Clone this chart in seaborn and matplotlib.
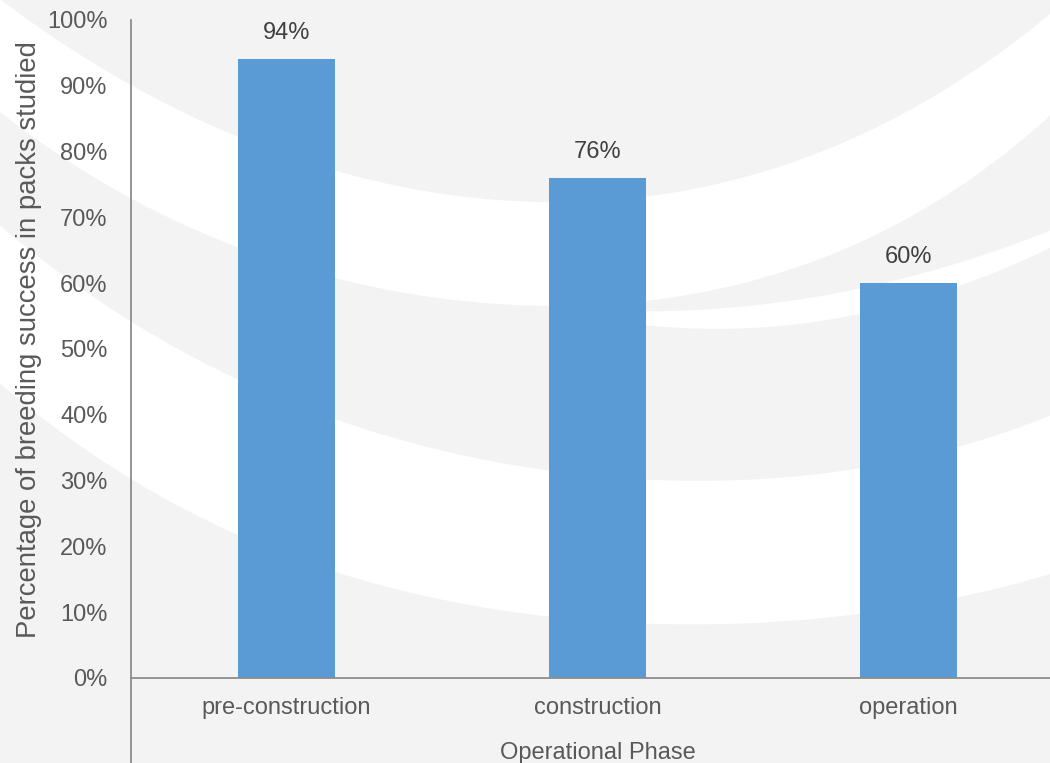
import numpy as np
import pandas as pd
import matplotlib
matplotlib.use("Agg")
import matplotlib.pyplot as plt
import seaborn as sns

# ---- data ----
phases = ["pre-construction", "construction", "operation"]
success_pct = [94, 76, 60]
y_ticks_pct = [0, 10, 20, 30, 40, 50, 60, 70, 80, 90, 100]
x_title = "Operational Phase"
y_title = "Percentage of breeding success in packs studied"

df = pd.DataFrame({"phase": phases, "value": [v / 100 for v in success_pct]})

sns.set_theme(style="white")
plt.rcParams["font.family"] = ["Liberation Sans", "DejaVu Sans"]

W, H = 1050, 763
fig = plt.figure(figsize=(W / 100, H / 100), dpi=100)
BG = "#f3f3f3"
fig.patch.set_facecolor(BG)

# ---- decorative background swooshes (pixel space) ----
bg = fig.add_axes([0, 0, 1, 1], zorder=0)
bg.set_xlim(0, W)
bg.set_ylim(H, 0)
bg.axis("off")
bg.set_facecolor(BG)
xs = np.linspace(0, W, 500)

def curve(px, py, deg=4):
    return np.polyval(np.polyfit(px, py, deg), xs)

b1x = [0, 130, 235, 340, 540, 650, 850, 960, 1050]
b1t = [0, 82, 137, 173, 202, 195, 139, 82, 13]
b1b = [113, 195, 248, 278, 313, 293, 245, 192, 113]
bg.fill_between(xs, curve(b1x, b1t), curve(b1x, b1b), color="white", lw=0)

b2x = [0, 130, 235, 340, 540, 650, 850, 960, 1050]
b2t = [225, 322, 378, 420, 469, 480, 472, 443, 417]
b2b = [382, 482, 534, 569, 616, 625, 619, 590, 577]
bg.fill_between(xs, curve(b2x, b2t), curve(b2x, b2b), color="white", lw=0)

tx = [560, 650, 850, 960, 1050]
tt = [312, 304, 289, 270, 225]
tb = [312, 323, 313, 291, 244]
ct = curve(tx, tt, 2)
cb = curve(tx, tb, 2)
xm = (xs >= 560) & (cb > ct)
bg.fill_between(xs[xm], ct[xm], cb[xm], color="white", lw=0)

# ---- main chart ----
left = 131 / W
bottom = (H - 678) / H
width = (1064 - 131) / W
height = (678 - 20) / H
ax = fig.add_axes([left, bottom, width, height], zorder=2)
ax.set_facecolor("none")

sns.barplot(data=df, x="phase", y="value", color="#5b9bd5", width=0.312,
            saturation=1, ax=ax, edgecolor="none")

ax.set_xlim(-0.5, 2.5)
ax.set_ylim(0, 1.0)
ax.set_yticks([t / 100 for t in y_ticks_pct])
ax.set_yticklabels([f"{t}%" for t in y_ticks_pct])

axis_col = "#8c8c8c"
text_col = "#595959"
for s in ["top", "right"]:
    ax.spines[s].set_visible(False)
for s in ["left", "bottom"]:
    ax.spines[s].set_color(axis_col)
    ax.spines[s].set_linewidth(1.3)
# extension of the vertical axis below the baseline
ax.axvline(-0.5, ymin=-(H - 678) / (678 - 20), ymax=0, color=axis_col,
           lw=1.3, clip_on=False)

ax.tick_params(axis="y", length=0, pad=17, labelsize=17, labelcolor=text_col)
ax.tick_params(axis="x", length=0, pad=13.5, labelsize=17, labelcolor=text_col)

ax.set_xlabel(x_title, fontsize=17, color=text_col, labelpad=16.5)
ax.set_ylabel(y_title, fontsize=19.8, color=text_col)
ax.yaxis.set_label_coords(-0.0954, 0.514)

ax.bar_label(ax.containers[0], labels=[f"{v}%" for v in success_pct],
             padding=11, fontsize=17, color="#404040")

fig.savefig("out.png", dpi=100, facecolor=BG)
